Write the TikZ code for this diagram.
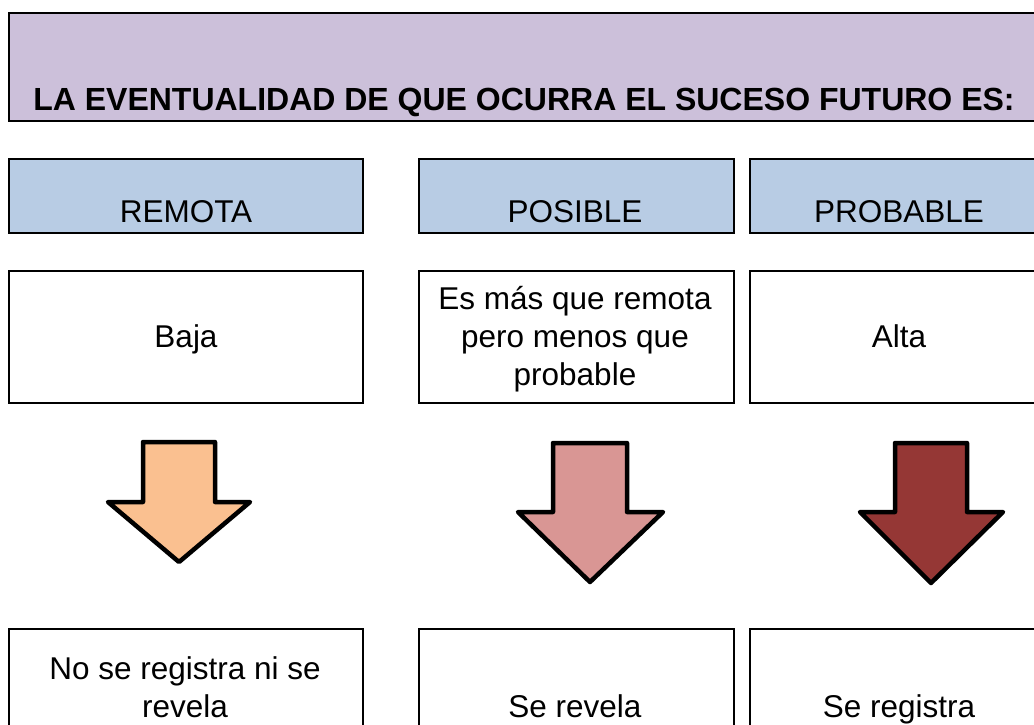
\documentclass[tikz,border=0pt]{standalone}
\usepackage{fontspec}
\setmainfont{Liberation Sans}
\usepackage{xcolor}
\definecolor{lila}{HTML}{CCC0DA}
\definecolor{celeste}{HTML}{B8CCE4}
\definecolor{durazno}{HTML}{FAC090}
\definecolor{rosado}{HTML}{D99694}
\definecolor{granate}{HTML}{953735}

\begin{document}
\begin{tikzpicture}[x=1pt,y=-1pt,
    caja/.style={draw=black, line width=2pt, inner sep=0pt, anchor=north west},
    texto/.style={font=\fontsize{31.5}{38}\selectfont, anchor=base, align=center, inner sep=0pt},
    flecha/.style={draw=black, line width=4.5pt, line join=round}]
  \useasboundingbox (0,0) rectangle (1034,724);
  \clip (0,0) rectangle (1034,724);

  % titulo
  \node[caja, fill=lila, minimum width=1050pt, minimum height=108pt] (titulo) at (8,12) {};
  \node[texto, font=\fontsize{32}{38}\selectfont\bfseries] (ttitulo) at (524,110) {LA EVENTUALIDAD DE QUE OCURRA EL SUCESO FUTURO ES:};

  % encabezados
  \node[caja, fill=celeste, minimum width=354pt, minimum height=74pt] (remota) at (8,158) {};
  \node[caja, fill=celeste, minimum width=315pt, minimum height=74pt] (posible) at (418,158) {};
  \node[caja, fill=celeste, minimum width=300pt, minimum height=74pt] (probable) at (749,158) {};
  \node[texto] (tremota) at (186,222) {REMOTA};
  \node[texto] (tposible) at (575,222) {POSIBLE};
  \node[texto] (tprobable) at (899,222) {PROBABLE};

  % descripcion (base = ultima linea)
  \node[caja, minimum width=354pt, minimum height=132pt] (baja) at (8,270) {};
  \node[caja, minimum width=315pt, minimum height=132pt] (media) at (418,270) {};
  \node[caja, minimum width=300pt, minimum height=132pt] (alta) at (749,270) {};
  \node[texto] (tbaja) at (186,347) {Baja};
  \node[texto] (tmedia) at (575,385) {Es más que remota\\pero menos que\\probable};
  \node[texto] (talta) at (899,347) {Alta};

  % flechas
  \draw[flecha, fill=durazno] (143,442) -- (215,442) -- (215,502) -- (250,502) -- (179,562) -- (108,502) -- (143,502) -- cycle;
  \draw[flecha, fill=rosado] (553,443) -- (627,443) -- (627,512) -- (663,512) -- (590,582) -- (518,512) -- (553,512) -- cycle;
  \draw[flecha, fill=granate] (895,443) -- (967,443) -- (967,512) -- (1003,512) -- (931,583) -- (860,512) -- (895,512) -- cycle;

  % resultado
  \node[caja, minimum width=354pt, minimum height=140pt] (nada) at (8,628) {};
  \node[caja, minimum width=315pt, minimum height=140pt] (revela) at (418,628) {};
  \node[caja, minimum width=300pt, minimum height=140pt] (registra) at (749,628) {};
  \node[texto] (tnada) at (185,717) {No se registra ni se\\revela};
  \node[texto] (trevela) at (575,717) {Se revela};
  \node[texto] (tregistra) at (899,717) {Se registra};
\end{tikzpicture}
\end{document}
